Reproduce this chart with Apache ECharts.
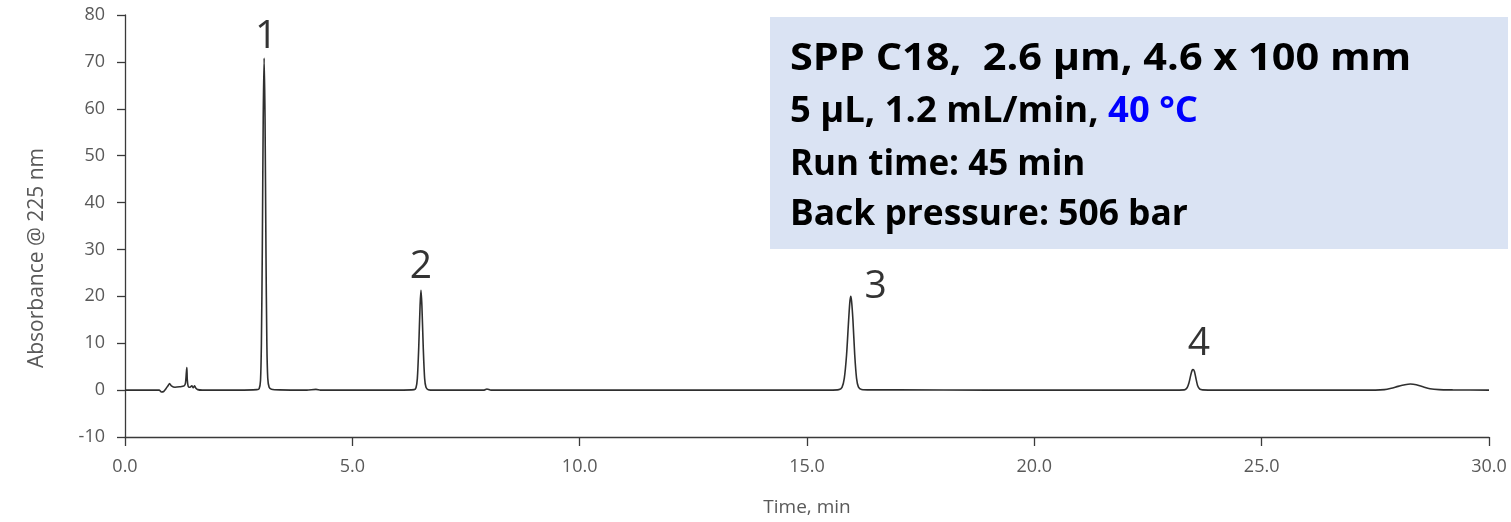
<!DOCTYPE html>
<html>
<head>
<meta charset="utf-8">
<script src="https://cdn.jsdelivr.net/npm/echarts@6/dist/echarts.min.js"></script>
<style>
html,body{margin:0;padding:0;background:#fff;}
#chart{width:1511px;height:522px;}
</style>
</head>
<body>
<div id="chart"></div>
<script>
// Chromatogram trace: time (min) and absorbance
const timeMin = [
  0.00, 0.50, 0.75, 0.80, 0.85, 0.90, 0.95, 0.98, 1.02, 1.10, 1.20, 1.30, 1.33, 1.35, 1.36, 1.37, 1.39, 1.42, 1.47, 1.50, 1.53, 1.56, 1.60, 1.70, 2.00, 2.50,
  2.90, 2.95, 2.98, 3.00, 3.02, 3.04, 3.06, 3.08, 3.10, 3.12, 3.14, 3.17, 3.22, 3.40,
  4.00, 4.20, 4.30, 5.00, 6.00, 6.36, 6.40, 6.43, 6.46, 6.49, 6.51, 6.53, 6.56, 6.59, 6.62, 6.67, 6.80,
  7.90, 7.96, 8.05, 10.00, 12.00, 14.00, 15.50,
  15.70, 15.77, 15.82, 15.87, 15.91, 15.94, 15.96, 15.98, 16.01, 16.05, 16.09, 16.13, 16.20, 16.40,
  17.00, 19.00, 21.00, 23.00,
  23.30, 23.36, 23.40, 23.44, 23.47, 23.49, 23.52, 23.55, 23.59, 23.64, 23.70, 24.00,
  26.00, 27.50, 27.70, 27.85, 28.00, 28.15, 28.27, 28.40, 28.55, 28.70, 28.90, 29.20, 30.00
];
const absorbance = [
  0.00, 0.00, 0.00, -0.40, -0.30, 0.30, 1.00, 1.40, 0.90, 0.60, 0.70, 0.90, 1.50, 3.80, 4.80, 2.20, 0.80, 0.60, 0.90, 0.50, 0.90, 0.40, 0.10, 0.00, 0.00, 0.00,
  0.10, 0.30, 2.00, 10.00, 30.00, 58.00, 70.80, 58.00, 30.00, 10.00, 2.50, 0.60, 0.20, 0.05,
  0.00, 0.15, 0.00, 0.00, 0.00, 0.10, 0.50, 2.50, 9.00, 18.00, 21.30, 18.00, 9.00, 2.50, 0.60, 0.10, 0.00,
  0.00, 0.25, 0.00, 0.00, 0.00, 0.00, 0.00,
  0.10, 0.60, 2.50, 7.50, 14.00, 18.50, 20.00, 19.00, 15.00, 7.50, 2.50, 0.70, 0.15, 0.05,
  0.05, 0.00, 0.00, 0.00,
  0.05, 0.50, 1.50, 3.20, 4.20, 4.40, 4.00, 2.70, 1.00, 0.20, 0.05, 0.00,
  0.00, 0.00, 0.10, 0.40, 0.80, 1.15, 1.30, 1.15, 0.70, 0.30, 0.10, 0.05, 0.00
];

// Peak labels
const peakNames = ['1', '2', '3', '4'];
const peakTimes = [3.06, 6.51, 15.96, 23.49];
const peakHeights = [70.8, 21.3, 20.0, 4.4];

// Axis tick settings and titles
const xTicks = { min: 0, max: 30, interval: 5 };
const yTicks = { min: -10, max: 80, interval: 10 };
const xTitle = 'Time, min';
const yTitle = 'Absorbance @ 225 nm';

// Info box text
const infoLines = [
  'SPP C18,  2.6 \u00b5m, 4.6 x 100 mm',
  '5 \u00b5L, 1.2 mL/min, ',
  '40 \u00b0C',
  'Run time: 45 min',
  'Back pressure: 506 bar'
];

const chart = echarts.init(document.getElementById('chart'), null, { renderer: 'canvas' });

const trace = timeMin.map((t, i) => [t, absorbance[i]]);
const labelOffsets = [[2, 0], [0, -2], [25, 12], [6, -4]];
const labelData = peakTimes.map((t, i) => ({
  value: [t, peakHeights[i]],
  label: { formatter: peakNames[i], offset: labelOffsets[i] }
}));

const axisFont = 'Open Sans, sans-serif';
const boxFont = 'Open Sans, sans-serif';

chart.setOption({
  animation: false,
  backgroundColor: '#ffffff',
  grid: { left: 125, right: 22, top: 15, bottom: 85, containLabel: false, outerBoundsMode: 'none' },
  xAxis: {
    type: 'value',
    min: xTicks.min, max: xTicks.max, interval: xTicks.interval,
    name: xTitle, nameLocation: 'middle', nameGap: 61,
    nameTextStyle: { color: '#595959', fontSize: 19, fontFamily: axisFont },
    axisLine: { onZero: false, lineStyle: { color: '#3a3a3a', width: 1.3 } },
    axisTick: { show: true, length: 9, lineStyle: { color: '#3a3a3a', width: 1.3 } },
    axisLabel: { color: '#595959', fontSize: 18, fontFamily: axisFont, margin: 21,
      formatter: v => v.toFixed(1) },
    splitLine: { show: false }
  },
  yAxis: {
    type: 'value',
    min: yTicks.min, max: yTicks.max, interval: yTicks.interval,
    axisLine: { show: true, onZero: false, lineStyle: { color: '#3a3a3a', width: 1.3 } },
    axisTick: { show: true, inside: false, length: 8, lineStyle: { color: '#3a3a3a', width: 1.3 } },
    axisLabel: { color: '#595959', fontSize: 18, fontFamily: axisFont, margin: 20 },
    splitLine: { show: false }
  },
  series: [
    {
      type: 'line',
      data: trace,
      showSymbol: false,
      symbol: 'none',
      smooth: 0.25,
      lineStyle: { color: '#2f2f2f', width: 1.6 },
      z: 3
    },
    {
      type: 'scatter',
      data: labelData,
      symbolSize: 0,
      silent: true,
      label: {
        show: true, position: 'top', distance: 2,
        color: '#000', fontSize: 39, fontFamily: 'Open Sans, sans-serif'
      },
      z: 4
    }
  ],
  graphic: [
    {
      type: 'text', x: 37, y: 258, rotation: Math.PI / 2,
      style: { text: yTitle, font: '21px ' + axisFont, fill: '#595959', textAlign: 'center', textVerticalAlign: 'middle' }
    },
    {
      type: 'rect',
      shape: { x: 770, y: 17, width: 738, height: 232 },
      style: { fill: '#dae3f3' },
      z: 10
    },
    {
      type: 'text', x: 790, y: 59, scaleX: 1.12,
      style: { text: infoLines[0], font: 'bold 37px ' + boxFont, fill: '#000', textVerticalAlign: 'middle' },
      z: 11
    },
    {
      type: 'text', x: 790, y: 112, scaleX: 1.04,
      style: {
        text: '{a|' + infoLines[1] + '}{b|' + infoLines[2] + '}',
        textVerticalAlign: 'middle',
        rich: {
          a: { font: 'bold 35px ' + boxFont, fill: '#000' },
          b: { font: 'bold 35px ' + boxFont, fill: '#0000ff' }
        }
      },
      z: 11
    },
    {
      type: 'text', x: 790, y: 165, scaleX: 1.0,
      style: { text: infoLines[3], font: 'bold 35px ' + boxFont, fill: '#000', textVerticalAlign: 'middle' },
      z: 11
    },
    {
      type: 'text', x: 790, y: 215, scaleX: 1.01,
      style: { text: infoLines[4], font: 'bold 35px ' + boxFont, fill: '#000', textVerticalAlign: 'middle' },
      z: 11
    }
  ]
});
</script>
</body>
</html>
